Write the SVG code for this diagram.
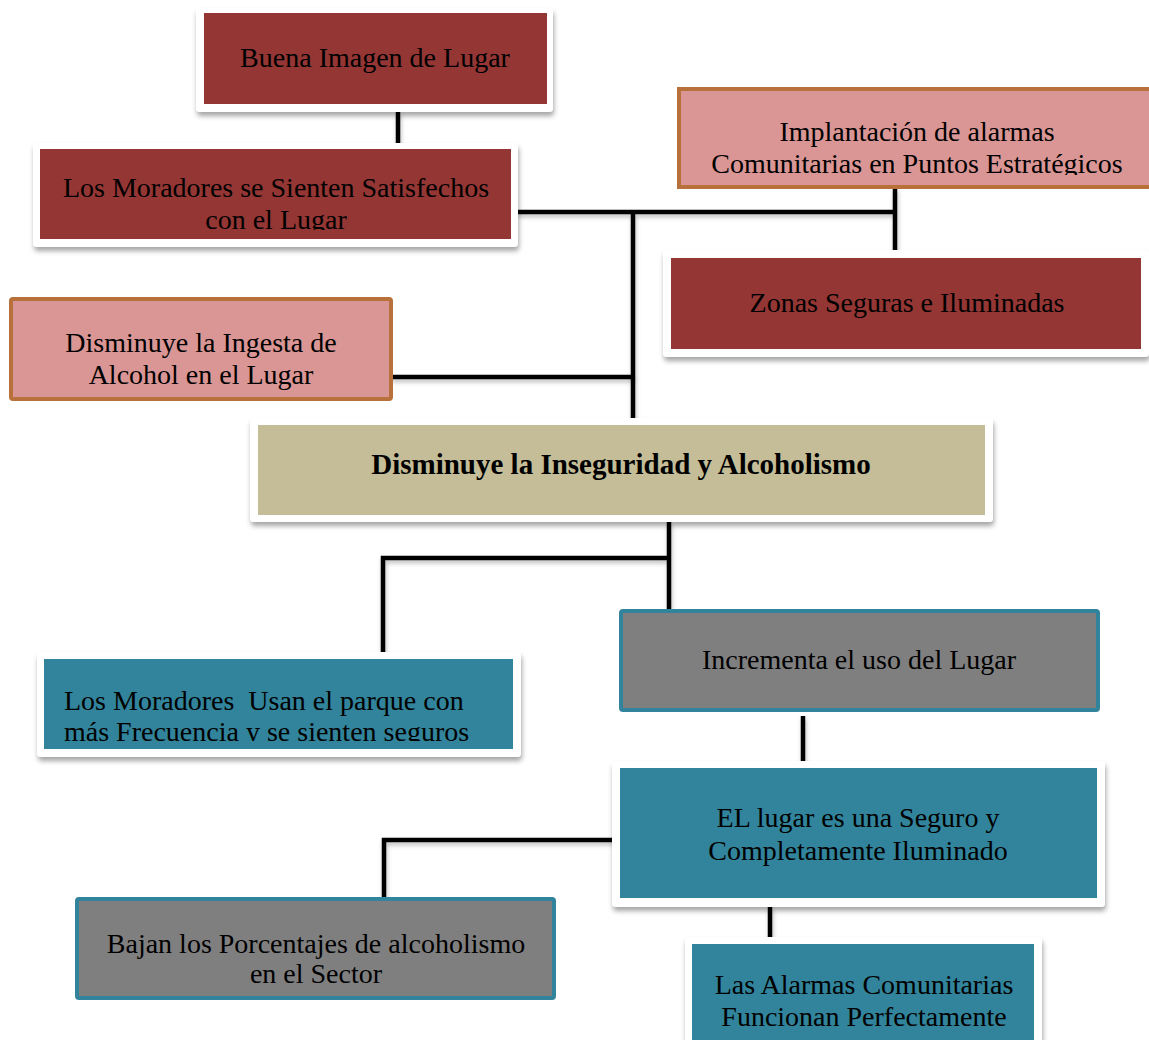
<svg xmlns="http://www.w3.org/2000/svg" width="1149" height="1040" viewBox="0 0 1149 1040">
<defs>
<filter id="sh" x="-10%" y="-20%" width="120%" height="150%">
<feDropShadow dx="1" dy="4" stdDeviation="2.5" flood-color="#000" flood-opacity="0.35"/>
</filter>
<filter id="lsh" filterUnits="userSpaceOnUse" x="0" y="0" width="1149" height="1040">
<feDropShadow dx="1" dy="3" stdDeviation="2" flood-color="#000" flood-opacity="0.25"/>
</filter>
<clipPath id="c2"><rect x="40" y="149" width="471" height="81"/></clipPath>
<clipPath id="c3"><rect x="677" y="87" width="472" height="88"/></clipPath>
<clipPath id="c7"><rect x="44" y="659" width="469" height="82"/></clipPath>
</defs>
<style>
.frame{fill:#fff;filter:url(#sh)}
.red{fill:#943634}
.pink{fill:#D99694;stroke:#B8713A;stroke-width:4}
.tan{fill:#C4BD97}
.teal{fill:#31849B}
.gray{fill:#7F7F7F;stroke:#31849B;stroke-width:4}
text{font-family:"Liberation Serif","Times New Roman",serif;font-size:28px;fill:#000;text-anchor:middle}
.b{font-weight:bold;font-size:29px}
.l{text-anchor:start}
.con{fill:none;stroke:#000;stroke-width:4.5;filter:url(#lsh)}
</style>
<g id="connectors">
<path class="con" d="M398 112V144"/>
<path class="con" d="M516 212H895M895 188V252M633 212V422"/>
<path class="con" d="M391 377H633"/>
<path class="con" d="M669 522V610M669 558H383V657"/>
<path class="con" d="M803 716V761"/>
<path class="con" d="M622 840H384V900"/>
<path class="con" d="M770 907V939"/>
</g>
<g id="n1">
<rect class="frame" x="196" y="8" width="357" height="104" rx="4"/>
<rect class="red" x="204" y="13" width="343" height="91"/>
<text x="375" y="67">Buena Imagen de Lugar</text>
</g>
<g id="n2">
<rect class="frame" x="33" y="143" width="485" height="104" rx="4"/>
<rect class="red" x="40" y="149" width="471" height="90"/>
<g clip-path="url(#c2)">
<text x="276" y="197">Los Moradores se Sienten Satisfechos</text>
<text x="276" y="229">con el Lugar</text>
</g>
</g>
<g id="n3">
<rect class="pink" x="679" y="89" width="474" height="98"/>
<g clip-path="url(#c3)">
<text x="917" y="141">Implantación de alarmas</text>
<text x="917" y="173">Comunitarias en Puntos Estratégicos</text>
</g>
</g>
<g id="n4">
<rect class="frame" x="663" y="250" width="486" height="107" rx="4"/>
<rect class="red" x="671" y="258" width="470" height="91"/>
<text x="907" y="312">Zonas Seguras e Iluminadas</text>
</g>
<g id="n5">
<rect class="pink" x="11" y="299" width="380" height="100" rx="2"/>
<text x="201" y="352">Disminuye la Ingesta de</text>
<text x="201" y="384">Alcohol en el Lugar</text>
</g>
<g id="n6">
<rect class="frame" x="250" y="418" width="743" height="104" rx="4"/>
<rect class="tan" x="258" y="425" width="727" height="90"/>
<text class="b" x="621" y="474">Disminuye la Inseguridad y Alcoholismo</text>
</g>
<g id="n7">
<rect class="frame" x="37" y="652" width="484" height="105" rx="4"/>
<rect class="teal" x="44" y="659" width="469" height="90"/>
<g clip-path="url(#c7)">
<text class="l" x="64" y="710" xml:space="preserve">Los Moradores  Usan el parque con</text>
<text class="l" x="64" y="741">más Frecuencia y se sienten seguros</text>
</g>
</g>
<g id="n8">
<rect class="gray" x="621" y="611" width="477" height="99" rx="2"/>
<text x="859" y="669">Incrementa el uso del Lugar</text>
</g>
<g id="n9">
<rect class="frame" x="612" y="761" width="493" height="146" rx="4"/>
<rect class="teal" x="620" y="768" width="477" height="130"/>
<text x="858" y="827">EL lugar es una Seguro y</text>
<text x="858" y="860">Completamente Iluminado</text>
</g>
<g id="n10">
<rect class="gray" x="77" y="899" width="477" height="99" rx="2"/>
<text x="316" y="953">Bajan los Porcentajes de alcoholismo</text>
<text x="316" y="983">en el Sector</text>
</g>
<g id="n11">
<rect class="frame" x="685" y="937" width="357" height="110" rx="4"/>
<rect class="teal" x="692" y="944" width="342" height="100"/>
<text x="864" y="994">Las Alarmas Comunitarias</text>
<text x="864" y="1026">Funcionan Perfectamente</text>
</g>
</svg>
